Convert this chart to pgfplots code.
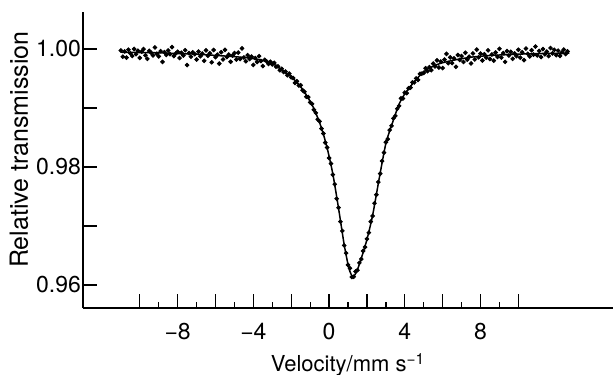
\documentclass[border=0pt]{standalone}
\usepackage{fontspec}
\setmainfont{TeX Gyre Heros}
\usepackage{pgfplots}
\pgfplotsset{compat=1.18}
\pgfplotstableread{
x y
-11.0 0.99975
-10.9 0.99869
-10.8 0.99959
-10.7 0.99853
-10.6 0.99988
-10.5 0.99927
-10.4 0.99882
-10.3 1.00001
-10.2 0.99911
-10.1 0.99970
-10.0 0.99850
-9.9 0.99954
-9.8 0.99999
-9.7 0.99893
-9.6 0.99833
-9.5 0.99967
-9.4 0.99937
-9.3 0.99891
-9.2 1.00026
-9.1 0.99920
-9.0 0.99875
-8.9 0.99964
-8.8 0.99782
-8.7 0.99946
-8.6 0.99900
-8.5 0.99974
-8.4 0.99913
-8.3 1.00032
-8.2 0.99880
-8.1 0.99924
-8.0 0.99953
-7.9 0.99847
-7.8 0.99936
-7.7 0.99890
-7.6 0.99979
-7.5 0.99727
-7.4 0.99931
-7.3 0.99870
-7.2 0.99944
-7.1 0.99913
-7.0 0.99822
-6.9 0.99955
-6.8 0.99878
-6.7 0.99921
-6.6 0.99799
-6.5 0.99977
-6.4 0.99885
-6.3 0.99928
-6.2 0.99775
-6.1 0.99983
-6.0 0.99861
-5.9 0.99904
-5.8 0.99752
-5.7 0.99945
-5.6 0.99823
-5.5 0.99985
-5.4 0.99863
-5.3 0.99906
-5.2 0.99784
-5.1 0.99887
-5.0 0.99930
-4.9 0.99822
-4.8 0.99939
-4.7 0.99831
-4.6 1.00010
-4.5 0.99855
-4.4 0.99792
-4.3 0.99895
-4.2 0.99830
-4.1 0.99870
-4.0 0.99730
-3.9 0.99845
-3.8 0.99780
-3.7 0.99878
-3.6 0.99796
-3.5 0.99710
-3.4 0.99817
-3.3 0.99790
-3.2 0.99748
-3.1 0.99784
-3.0 0.99739
-2.9 0.99765
-2.8 0.99700
-2.7 0.99705
-2.6 0.99640
-2.5 0.99665
-2.4 0.99610
-2.3 0.99618
-2.2 0.99555
-2.1 0.99583
-2.0 0.99520
-1.9 0.99508
-1.8 0.99425
-1.7 0.99453
-1.6 0.99380
-1.5 0.99385
-1.4 0.99300
-1.3 0.99275
-1.2 0.99190
-1.1 0.99183
-1.0 0.99095
-0.9 0.99068
-0.8 0.98970
-0.7 0.98918
-0.6 0.98805
-0.5 0.98773
-0.4 0.98650
-0.3 0.98567
-0.2 0.98413
-0.1 0.98330
0.0 0.98153
0.1 0.98057
0.2 0.97870
0.3 0.97707
0.4 0.97463
0.5 0.97310
0.6 0.97073
0.7 0.96917
0.8 0.96670
0.9 0.96540
1.0 0.96340
1.1 0.96285
1.2 0.96135
1.3 0.96140
1.4 0.96230
1.5 0.96250
1.6 0.96375
1.7 0.96440
1.8 0.96577
1.9 0.96643
2.0 0.96780
2.1 0.96887
2.2 0.97073
2.3 0.97170
2.4 0.97385
2.5 0.97530
2.6 0.97745
2.7 0.97888
2.8 0.98100
2.9 0.98243
3.0 0.98420
3.1 0.98473
3.2 0.98625
3.3 0.98698
3.4 0.98825
3.5 0.98866
3.6 0.98987
3.7 0.99036
3.8 0.99163
3.9 0.99161
4.0 0.99260
4.1 0.99252
4.2 0.99334
4.3 0.99346
4.4 0.99434
4.5 0.99432
4.6 0.99501
4.7 0.99476
4.8 0.99579
4.9 0.99582
5.0 0.99595
5.1 0.99674
5.2 0.99623
5.3 0.99692
5.4 0.99641
5.5 0.99752
5.6 0.99704
5.7 0.99807
5.8 0.99685
5.9 0.99788
6.0 0.99676
6.1 0.99819
6.2 0.99917
6.3 0.99760
6.4 0.99857
6.5 0.99760
6.6 0.99841
6.7 0.99697
6.8 0.99898
6.9 0.99814
7.0 0.99880
7.1 0.99780
7.2 0.99935
7.3 0.99820
7.4 0.99870
7.5 0.99755
7.6 0.99925
7.7 0.99823
7.8 0.99990
7.9 0.99858
8.0 0.99921
8.1 0.99804
8.2 0.99911
8.3 0.99854
8.4 0.99977
8.5 0.99830
8.6 0.99907
8.7 0.99803
8.8 0.99940
8.9 0.99866
9.0 1.00003
9.1 0.99854
9.2 0.99931
9.3 0.99782
9.4 0.99964
9.5 0.99890
9.6 0.99951
9.7 0.99833
9.8 0.99924
9.9 0.99880
10.0 0.99987
10.1 0.99853
10.2 0.99944
10.3 0.99811
10.4 1.00007
10.5 0.99918
10.6 0.99874
10.7 0.99979
10.8 0.99905
10.9 1.00041
11.0 0.99892
11.1 0.99967
11.2 0.99863
11.3 0.99999
11.4 0.99909
11.5 0.99955
11.6 0.99880
11.7 1.00016
11.8 0.99926
11.9 0.99986
12.0 0.99897
12.1 0.99972
12.2 0.99883
12.3 0.99943
12.4 0.99989
12.5 0.99914
12.6 0.99960
}\datatable
\pgfplotstableread{
x y
-11.0 0.99945
-10.0 0.99940
-9.0 0.99935
-8.0 0.99923
-7.0 0.99912
-6.0 0.99891
-5.0 0.99870
-4.3 0.99850
-3.8 0.99825
-3.25 0.99785
-2.8 0.99720
-2.4 0.99620
-2.0 0.99530
-1.6 0.99400
-1.2 0.99220
-0.8 0.98990
-0.4 0.98660
-0.1 0.98320
0.2 0.97880
0.5 0.97300
0.8 0.96680
1.05 0.96280
1.25 0.96140
1.45 0.96220
1.7 0.96450
2.0 0.96770
2.3 0.97180
2.64 0.97790
3.0 0.98400
3.34 0.98740
3.69 0.99060
4.0 0.99240
4.31 0.99370
4.65 0.99500
5.0 0.99615
5.45 0.99700
5.9 0.99758
6.5 0.99805
7.0 0.99835
7.6 0.99865
8.5 0.99890
9.5 0.99905
10.5 0.99918
11.5 0.99925
12.7 0.99930
}\fittable
\begin{document}
\begin{tikzpicture}
\useasboundingbox (0,0) rectangle (306.5pt,187pt);
\begin{axis}[
  at={(41.5pt,33pt)}, anchor=south west,
  scale only axis, width=265pt, height=148pt,
  xmin=-13, xmax=15, ymin=0.9561, ymax=1.00627,
  axis lines=left, axis line style={-, line width=0.7pt},
  tick align=inside,
  xtick={-8,-4,0,4,8}, xticklabels={−8,−4,0,4,8},
  extra x ticks={-10,-6,-2,2,6,10}, extra x tick labels={},
  extra x tick style={grid=none},
  minor xtick={-9,-7,...,9},
  ytick={0.96,0.98,1.00}, yticklabels={0.96,0.98,1.00},
  extra y ticks={0.97,0.99}, extra y tick labels={},
  extra y tick style={grid=none},
  major tick length=7pt, minor tick length=3.2pt,
  tick style={line width=0.65pt, black},
  tick label style={font=\fontsize{11.5}{13}\selectfont},
  x tick label style={yshift=-4.2pt},
  y tick label style={xshift=2.5pt},
  xlabel={Velocity/mm s\textsuperscript{−1}},
  ylabel={Relative transmission},
  xlabel style={font=\fontsize{11}{13}\selectfont, at={(axis description cs:0.5,-0.2162)}, anchor=base},
  ylabel style={font=\fontsize{12.5}{14}\selectfont, at={(axis description cs:-0.1038,0.535)}, anchor=base},
]
\addplot[only marks, mark=*, mark size=0.95pt, black] table[x=x,y=y] {\datatable};
\addplot[black, line width=0.75pt, smooth, tension=0.4] table[x=x,y=y] {\fittable};
\end{axis}
\end{tikzpicture}
\end{document}
